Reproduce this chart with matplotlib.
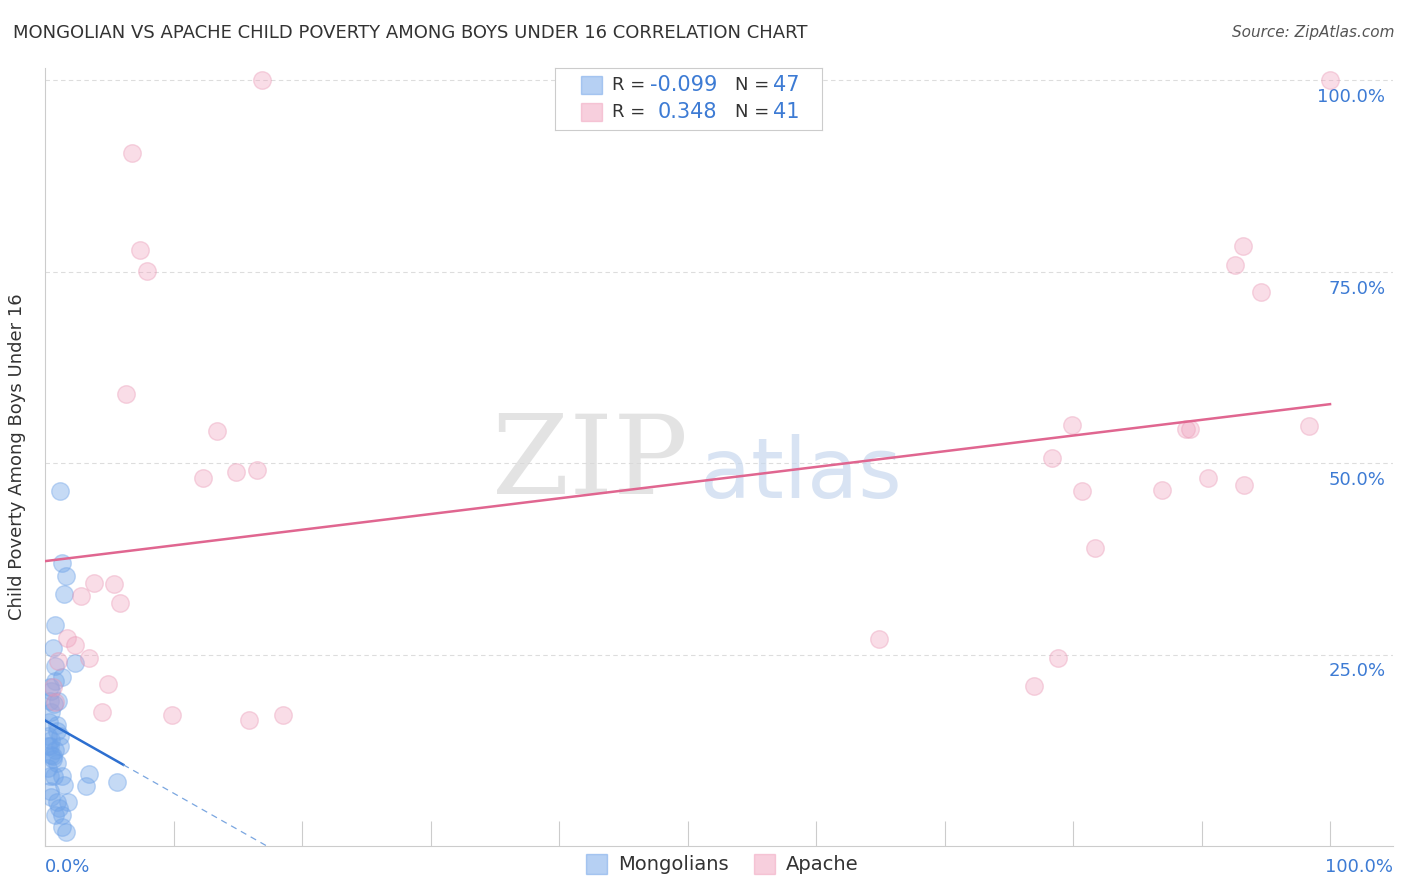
import matplotlib
matplotlib.use("Agg")
import matplotlib.pyplot as plt
import numpy as np

mong_x = [1.2,1.3,1.6,1.5,0.8,0.6,2.3,0.8,1.3,0.4,0.5,0.4,0.7,0.9,0.2,0.5,1.2,0.8,0.6,0.9,0.4,0.7,1.3,3.4,3.2,5.6,1.5,0.5,0.9,1.8,1.1,1.3,0.8,1.3,1.6,0.4,0.2,0.5,0.8,0.3,0.9,0.4,1.0,1.2,0.6,0.2,0.5]
mong_y = [46.3,36.9,35.2,32.9,28.8,25.8,23.9,23.5,22.1,20.8,20.3,19.0,18.6,15.8,14.4,13.8,14.3,12.5,11.7,10.9,9.1,9.1,9.1,9.4,7.8,8.4,8.0,6.4,5.7,5.7,5.0,4.1,4.1,2.5,1.8,13.1,13.1,17.5,21.5,16.2,15.0,7.2,19.0,13.1,11.4,10.2,11.9]
apache_x = [16.9,6.8,7.4,7.9,6.3,13.4,12.3,14.9,16.5,3.8,5.4,2.8,5.8,1.7,2.3,3.4,1.0,4.9,0.6,0.8,4.4,9.9,15.9,18.5,100.0,93.2,92.6,94.6,79.9,88.8,89.1,98.4,78.4,80.7,86.9,90.5,93.3,81.7,64.9,78.8,77.0]
apache_y = [100.0,90.5,77.8,75.1,59.0,54.2,48.0,48.9,49.1,34.4,34.2,32.6,31.7,27.2,26.2,24.5,24.2,21.1,20.8,18.8,17.5,17.1,16.4,17.1,100.0,78.3,75.9,72.4,55.0,54.4,54.4,54.8,50.7,46.3,46.5,48.0,47.1,38.9,27.0,24.5,20.9]
apache_fit = (37.2, 0.205)
mong_fit = (16.4, -0.95)

blue, pink = "#6fa3e8", "#f0a0bc"
fig = plt.figure(figsize=(14.06, 8.92), dpi=100)
ax = fig.add_axes([45/1406, 1-846/892, (1393-45)/1406, (846-68)/892])
ax.set_xlim(0, 104.9); ax.set_ylim(0, 101.6)
for y in [25, 50, 75, 100]:
    ax.axhline(y, color="#dddddd", ls=(0, (4, 3)), lw=0.8, zorder=0)
    ax.text(104.3, y-2.2, f"{y:.1f}%", ha="right", va="center", color="#3d7bd4", fontsize=13)
ax.scatter(mong_x, mong_y, s=160, facecolor=blue, alpha=0.4, edgecolor=blue, lw=1, zorder=3)
ax.scatter(apache_x, apache_y, s=160, facecolor=pink, alpha=0.35, edgecolor="#e890b0", lw=1, zorder=3)
xs = np.array([0, 100]); ax.plot(xs, apache_fit[0]+apache_fit[1]*xs, color="#e06690", lw=1.8, zorder=4)
xb = np.array([0, 6.1]); ax.plot(xb, mong_fit[0]+mong_fit[1]*xb, color="#2d6fd0", lw=1.8, zorder=4)
xd = np.array([6.1, 17.3]); ax.plot(xd, mong_fit[0]+mong_fit[1]*xd, color="#7aa6e0", lw=0.9, ls=(0, (5, 4)), zorder=4)
for s in ["top", "right"]: ax.spines[s].set_visible(False)
ax.spines["left"].set_color("#cccccc"); ax.spines["bottom"].set_color("#cccccc")
ax.set_xticks(np.arange(0, 101, 10)); ax.set_xticklabels([])
ax.tick_params(axis="x", direction="in", length=18, color="#cccccc")
ax.set_yticks([])
ax.text(0, -1.6, "0.0%", ha="left", va="top", color="#3d7bd4", fontsize=13)
ax.text(104.9, -1.6, "100.0%", ha="right", va="top", color="#3d7bd4", fontsize=13)
ax.set_ylabel("Child Poverty Among Boys Under 16", fontsize=13, color="#333333", labelpad=14)
ax.text(50, 50, "ZIP", fontsize=80, color="#d8d8d8", ha="right", va="center", family="DejaVu Serif", alpha=0.7)
ax.text(51, 48.5, "atlas", fontsize=60, color="#c8d8ee", ha="left", va="center", alpha=0.7)
fig.text(13/1406, 1-33/892, "MONGOLIAN VS APACHE CHILD POVERTY AMONG BOYS UNDER 16 CORRELATION CHART", fontsize=13, color="#333333", va="center")
fig.text(1394/1406, 1-33/892, "Source: ZipAtlas.com", fontsize=11, color="#555555", va="center", ha="right", style="italic")
lb = fig.add_axes([555/1406, 1-130/892, 267/1406, 62/892]); lb.set_xlim(0, 267); lb.set_ylim(62, 0)
lb.set_xticks([]); lb.set_yticks([])
for s in lb.spines.values(): s.set_color("#cccccc")
for i, (c, r, n) in enumerate([(blue, "-0.099", "47"), (pink, "0.348", "41")]):
    yy = 17 + i*27
    lb.add_patch(plt.Rectangle((26, yy-9), 21, 18, facecolor=c, alpha=0.5, edgecolor=c))
    lb.text(57, yy, "R =", fontsize=13, va="center", color="#333333")
    lb.text(162 if i else 162, yy, r, fontsize=15, va="center", ha="right", color="#3d7bd4")
    lb.text(180, yy, "N =", fontsize=13, va="center", color="#333333")
    lb.text(218, yy, n, fontsize=15, va="center", color="#3d7bd4")
for x0, c, lab in [(586, blue, "Mongolians"), (754, pink, "Apache")]:
    fig.patches.append(plt.Rectangle((x0/1406, 1-874/892), 21/1406, 20/892, transform=fig.transFigure, facecolor=c, alpha=0.5, edgecolor=c))
    fig.text((x0+32)/1406, 1-864/892, lab, fontsize=14, va="center", color="#333333")
fig.savefig("out.png", dpi=100)
